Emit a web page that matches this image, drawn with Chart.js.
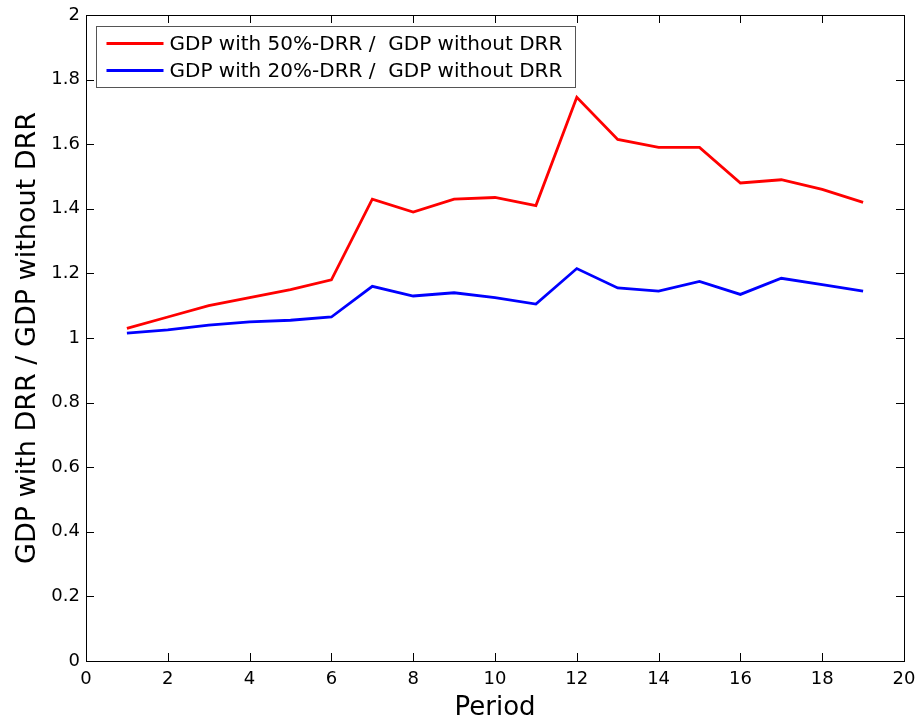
<!DOCTYPE html>
<html>
<head>
<meta charset="utf-8">
<script src="https://cdn.jsdelivr.net/npm/chart.js@4"></script>
<style>
    html, body { margin: 0; padding: 0; background: #fff; }
    #wrap { width: 920px; height: 727px; }
</style>
</head>
<body>
<div id="wrap"><canvas id="myChart" width="920" height="727"></canvas></div>
<script>
const periods = [1, 2, 3, 4, 5, 6, 7, 8, 9, 10, 11, 12, 13, 14, 15, 16, 17, 18, 19];
const ratio50 = [1.03, 1.065, 1.10, 1.125, 1.15, 1.18, 1.43, 1.39, 1.43, 1.435, 1.41, 1.745, 1.615, 1.59, 1.59, 1.48, 1.49, 1.46, 1.42];
const ratio20 = [1.015, 1.025, 1.04, 1.05, 1.055, 1.065, 1.16, 1.13, 1.14, 1.125, 1.105, 1.215, 1.155, 1.145, 1.175, 1.135, 1.185, 1.165, 1.145];
const xTicks = [0, 2, 4, 6, 8, 10, 12, 14, 16, 18, 20];
const yTicks = [0, 0.2, 0.4, 0.6, 0.8, 1, 1.2, 1.4, 1.6, 1.8, 2];
const yTickLabels = ['0', '0.2', '0.4', '0.6', '0.8', '1', '1.2', '1.4', '1.6', '1.8', '2'];
const seriesLabels = ['GDP with 50%-DRR /  GDP without DRR', 'GDP with 20%-DRR /  GDP without DRR'];

const FONT = "'DejaVu Sans', Verdana, sans-serif";

// box, inward ticks and legend like the matlab figure
const matlabFrame = {
    id: 'matlabFrame',
    afterDatasetsDraw(chart) {
        const ctx = chart.ctx;
        const a = chart.chartArea;
        const xs = chart.scales.x, ys = chart.scales.y;
        const tl = 8;
        ctx.save();
        ctx.strokeStyle = '#000';
        ctx.lineWidth = 1;
        ctx.beginPath();
        xTicks.forEach(v => {
            const px = Math.round(xs.getPixelForValue(v)) + 0.5;
            ctx.moveTo(px, a.bottom); ctx.lineTo(px, a.bottom - tl);
            ctx.moveTo(px, a.top); ctx.lineTo(px, a.top + tl);
        });
        yTicks.forEach(v => {
            const py = Math.round(ys.getPixelForValue(v)) + 0.5;
            ctx.moveTo(a.left, py); ctx.lineTo(a.left + tl, py);
            ctx.moveTo(a.right, py); ctx.lineTo(a.right - tl, py);
        });
        ctx.stroke();
        ctx.strokeRect(Math.round(a.left) + 0.5, Math.round(a.top) + 0.5,
            Math.round(a.right - a.left), Math.round(a.bottom - a.top));

        // legend
        const bx = Math.round(a.left) + 10.5, by = Math.round(a.top) + 11.5, bw = 479, bh = 61;
        ctx.fillStyle = '#fff';
        ctx.fillRect(bx, by, bw, bh);
        ctx.strokeStyle = '#555';
        ctx.strokeRect(bx, by, bw, bh);
        ctx.font = '20px ' + FONT;
        ctx.textBaseline = 'middle';
        chart.data.datasets.forEach((ds, i) => {
            const ly = by + 17 + i * 27;
            ctx.strokeStyle = ds.borderColor;
            ctx.lineWidth = 2.8;
            ctx.beginPath();
            ctx.moveTo(bx + 10, ly); ctx.lineTo(bx + 67, ly);
            ctx.stroke();
            ctx.fillStyle = '#000';
            ctx.fillText(ds.label, bx + 73, ly + 1);
        });
        ctx.restore();
    }
};

const ctx = document.getElementById('myChart').getContext('2d');
new Chart(ctx, {
    type: 'line',
    data: {
        labels: periods,
        datasets: [{
            label: seriesLabels[0],
            data: periods.map((p, i) => ({ x: p, y: ratio50[i] })),
            borderColor: '#ff0000',
            borderWidth: 2.8,
            pointRadius: 0,
            tension: 0
        }, {
            label: seriesLabels[1],
            data: periods.map((p, i) => ({ x: p, y: ratio20[i] })),
            borderColor: '#0000ff',
            borderWidth: 2.8,
            pointRadius: 0,
            tension: 0
        }]
    },
    options: {
        responsive: false,
        animation: false,
        layout: {
            padding: { top: 15, right: 16, left: 0, bottom: 0 }
        },
        plugins: {
            legend: { display: false },
            tooltip: { enabled: false }
        },
        scales: {
            x: {
                type: 'linear',
                min: 0,
                max: 20,
                afterBuildTicks: function (scale) {
                    scale.ticks = xTicks.map(v => ({ value: v }));
                },
                afterFit: function (scale) {
                    scale.height = 66;
                    scale.paddingLeft = 0;
                    scale.paddingRight = 0;
                },
                grid: { display: false, drawTicks: false },
                border: { display: false },
                ticks: {
                    color: '#000',
                    padding: 8,
                    maxRotation: 0,
                    font: { family: FONT, size: 18 }
                },
                title: {
                    display: true,
                    text: 'Period',
                    color: '#000',
                    padding: { top: 0, bottom: 3 },
                    font: { family: FONT, size: 26 }
                }
            },
            y: {
                type: 'linear',
                min: 0,
                max: 2,
                afterBuildTicks: function (scale) {
                    scale.ticks = yTicks.map(v => ({ value: v }));
                },
                afterFit: function (scale) {
                    scale.width = 86;
                    scale.paddingTop = 0;
                    scale.paddingBottom = 0;
                },
                grid: { display: false, drawTicks: false },
                border: { display: false },
                ticks: {
                    color: '#000',
                    padding: 6,
                    font: { family: FONT, size: 18 },
                    callback: function (value) {
                        const i = yTicks.findIndex(t => Math.abs(t - value) < 1e-9);
                        return i >= 0 ? yTickLabels[i] : '';
                    }
                },
                title: {
                    display: true,
                    text: 'GDP with DRR / GDP without DRR',
                    color: '#000',
                    padding: { top: 12, bottom: 0 },
                    font: { family: FONT, size: 27 }
                }
            }
        }
    },
    plugins: [matlabFrame]
});
</script>
</body>
</html>
